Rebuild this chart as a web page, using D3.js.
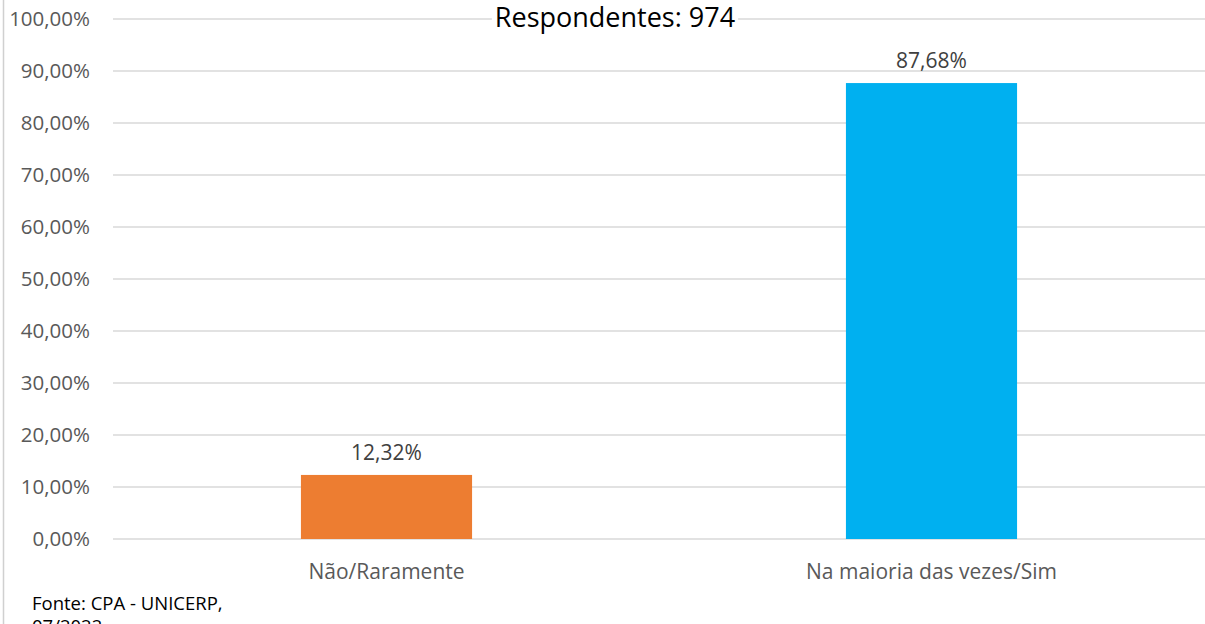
<!DOCTYPE html>
<html><head><meta charset="utf-8">
<script src="https://cdn.jsdelivr.net/npm/d3@7"></script>
<style>
html,body{margin:0;padding:0;background:#fff;overflow:hidden}
svg{display:block}
</style></head>
<body>
<script>
const categories = ["Não/Raramente", "Na maioria das vezes/Sim"];
const values = [12.32, 87.68];
const valueLabels = ["12,32%", "87,68%"];
const colors = ["#ED7D31", "#00B0F0"];
const yTicks = [0,10,20,30,40,50,60,70,80,90,100];
const tickLabels = ["0,00%","10,00%","20,00%","30,00%","40,00%","50,00%","60,00%","70,00%","80,00%","90,00%","100,00%"];
const title = "Respondentes: 974";
const sourceLines = ["Fonte: CPA - UNICERP,", "07/2022"];

const W = 1205, H = 624;
const font = "'Open Sans', 'Noto Sans', sans-serif";
const svg = d3.select("body").append("svg").attr("width", W).attr("height", H);

// left border
svg.append("line").attr("x1",3.5).attr("x2",3.5).attr("y1",0).attr("y2",H)
  .attr("stroke","#d0d0d0").attr("stroke-width",1.5);

const x = d3.scaleBand().domain(categories).range([114, 1204]).paddingInner(0.686).paddingOuter(0.343);
const y = d3.scaleLinear().domain([0,100]).range([539, 19]);

// gridlines
svg.append("g").selectAll("line").data(yTicks).join("line")
  .attr("x1",113).attr("x2",W).attr("y1",d=>y(d)).attr("y2",d=>y(d))
  .attr("stroke","#d9d9d9").attr("stroke-width",1.5);

// y tick labels
svg.append("g").selectAll("text").data(yTicks).join("text")
  .attr("x",90).attr("y",d=>y(d)).attr("dy","0.36em")
  .attr("text-anchor","end").attr("font-family",font).attr("font-size",20.5)
  .attr("fill","#595959").text((d,i)=>tickLabels[i]);

// bars
svg.append("g").selectAll("rect").data(values).join("rect")
  .attr("x",(d,i)=>x(categories[i])).attr("width",x.bandwidth())
  .attr("y",d=>y(d)).attr("height",d=>y(0)-y(d))
  .attr("fill",(d,i)=>colors[i]);

// value labels
svg.append("g").selectAll("text").data(values).join("text")
  .attr("x",(d,i)=>x(categories[i])+x.bandwidth()/2).attr("y",d=>y(d)-15)
  .attr("text-anchor","middle").attr("font-family",font).attr("font-size",21)
  .attr("fill","#404040").text((d,i)=>valueLabels[i]);

// category labels
svg.append("g").selectAll("text").data(categories).join("text")
  .attr("x",d=>x(d)+x.bandwidth()/2).attr("y",579)
  .attr("text-anchor","middle").attr("font-family",font).attr("font-size",21)
  .attr("fill","#595959").text(d=>d);

// title with white background
const tg = svg.append("g");
const tt = tg.append("text").attr("x",615).attr("y",27).attr("text-anchor","middle")
  .attr("font-family",font).attr("font-size",27).attr("fill","#000").text(title);
const bb = tt.node().getBBox();
tg.insert("rect","text").attr("x",bb.x-3).attr("y",Math.max(0,bb.y)).attr("width",bb.width+6).attr("height",bb.height).attr("fill","#fff");

// source
svg.append("g").selectAll("text").data(sourceLines).join("text")
  .attr("x",32).attr("y",(d,i)=>610+i*23)
  .attr("font-family",font).attr("font-size",18.5).attr("fill","#000").text(d=>d);
</script>
</body></html>
